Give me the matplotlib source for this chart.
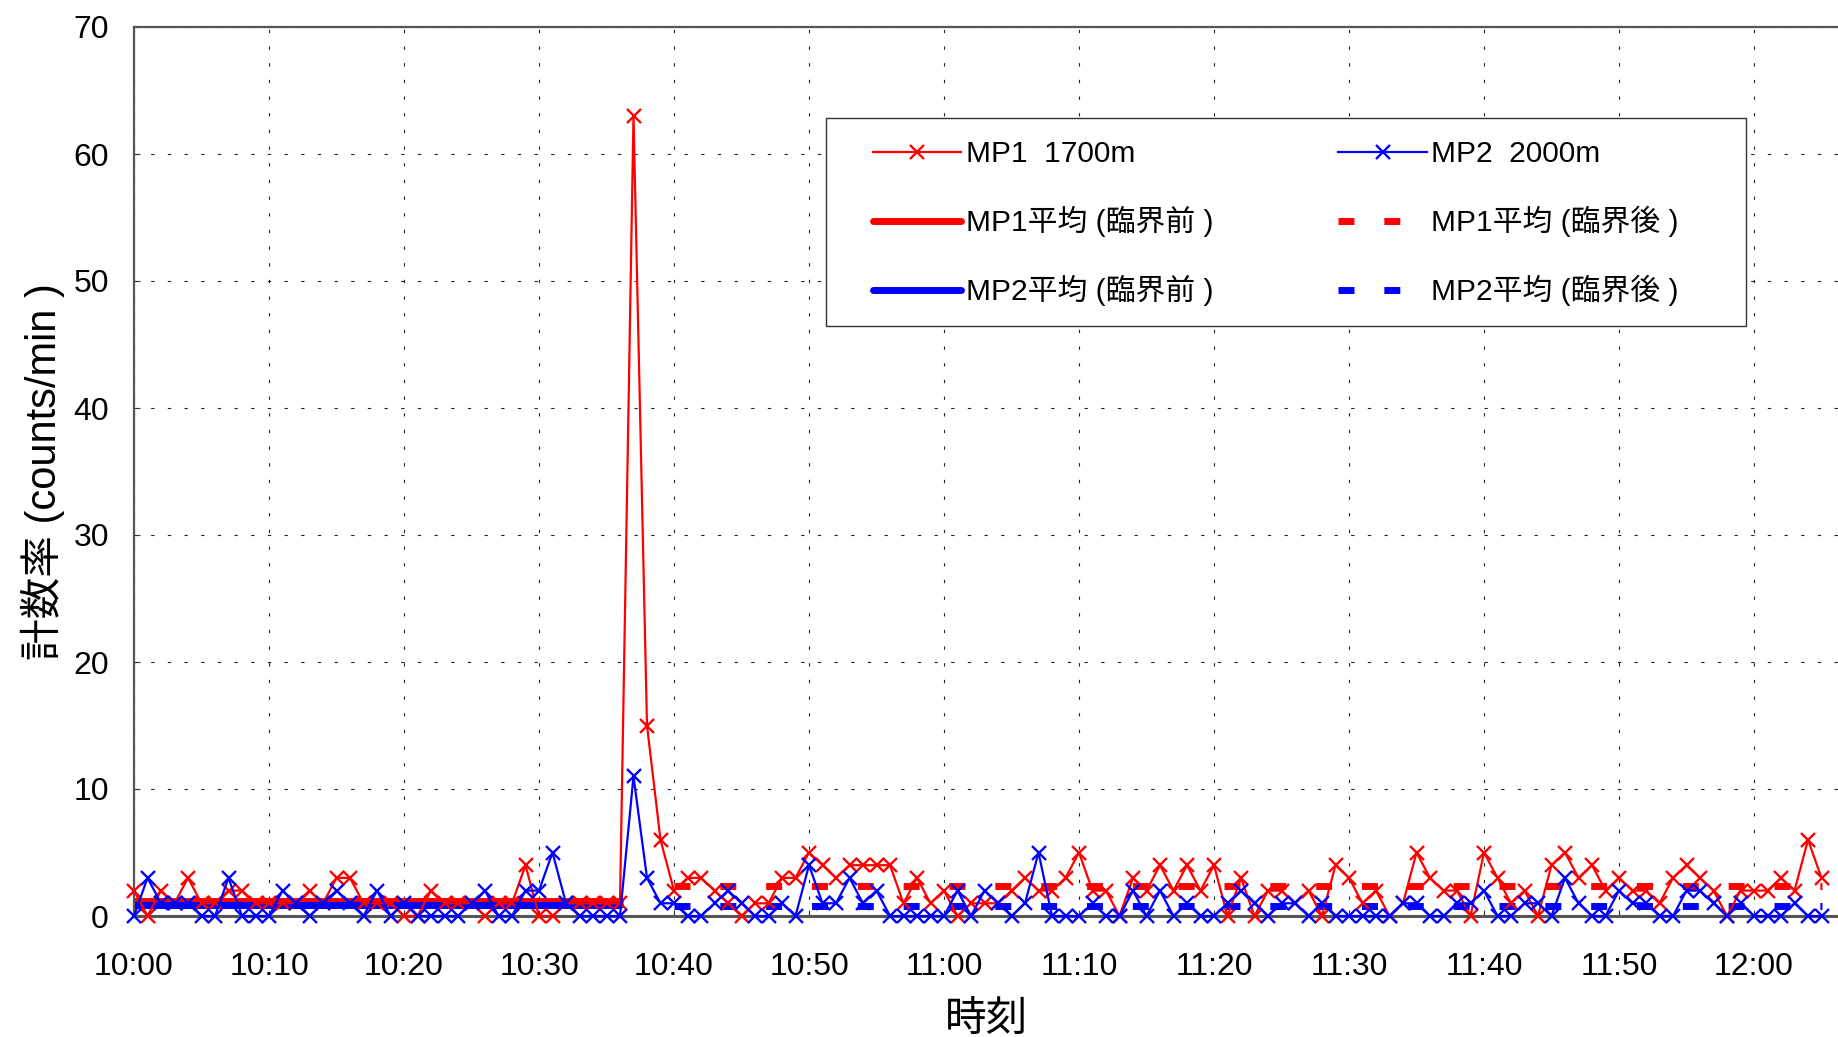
import matplotlib
matplotlib.use("Agg")
import matplotlib.pyplot as plt
from matplotlib.patches import Rectangle

plt.rcParams['font.family'] = ['Liberation Sans', 'Noto Sans CJK JP']

# minutes after 10:00, one count per minute
minutes = list(range(126))
mp1 = [2, 0, 2, 1, 3, 1, 1, 2, 2, 1, 1, 1, 1, 2, 1, 3, 3, 1, 1, 1,
       0, 0, 2, 1, 1, 1, 0, 1, 1, 4, 0, 0, 1, 1, 1, 1, 1, 63, 15, 6,
       2, 3, 3, 2, 1, 0, 1, 1, 3, 3, 5, 4, 3, 4, 4, 4, 4, 1, 3, 1,
       2, 0, 1, 1, 1, 2, 3, 2, 2, 3, 5, 2, 2, 0, 3, 2, 4, 2, 4, 2,
       4, 0, 3, 0, 2, 2, 1, 2, 0, 4, 3, 1, 2, 0, 1, 5, 3, 2, 2, 0,
       5, 3, 1, 2, 0, 4, 5, 3, 4, 2, 3, 2, 2, 1, 3, 4, 3, 2, 0, 2,
       2, 2, 3, 2, 6, 3]
mp2 = [0, 3, 1, 1, 1, 0, 0, 3, 0, 0, 0, 2, 1, 0, 1, 2, 1, 0, 2, 0,
       1, 0, 0, 0, 0, 1, 2, 0, 0, 2, 2, 5, 1, 0, 0, 0, 0, 11, 3, 1,
       1, 0, 0, 1, 2, 1, 0, 0, 1, 0, 4, 1, 1, 3, 1, 2, 0, 0, 0, 0,
       0, 2, 0, 2, 1, 0, 1, 5, 0, 0, 0, 1, 0, 0, 2, 0, 2, 0, 1, 0,
       0, 1, 2, 1, 0, 1, 1, 0, 1, 0, 0, 0, 0, 0, 1, 1, 0, 0, 1, 1,
       2, 0, 0, 1, 1, 0, 3, 1, 0, 0, 2, 1, 1, 0, 0, 2, 2, 1, 0, 1,
       0, 0, 0, 1, 0, 0]

# averages before / after criticality
before_span = [0, 36]
after_span = [40, 125]
mp1_avg_before = 1.2
mp2_avg_before = 0.9
mp1_avg_after = 2.4
mp2_avg_after = 0.8

xtick_pos = list(range(0, 121, 10))
xtick_labels = ['10:00', '10:10', '10:20', '10:30', '10:40', '10:50', '11:00',
                '11:10', '11:20', '11:30', '11:40', '11:50', '12:00']

W, H = 1838, 1037
fig = plt.figure(figsize=(W / 100, H / 100), dpi=100)
ax = fig.add_axes([134 / W, 1 - 916 / H, (W - 134) / W, (916 - 27) / H])

red = '#ff0000'
blue = '#0000ff'

l_b1, = ax.plot(before_span, [mp1_avg_before] * 2, color=red, lw=5,
                solid_capstyle='round', zorder=2)
l_b2, = ax.plot(before_span, [mp2_avg_before] * 2, color=blue, lw=5,
                solid_capstyle='round', zorder=2)
l_a1, = ax.plot(after_span, [mp1_avg_after] * 2, color=red, lw=5,
                linestyle=(0, (2.3, 4.3)), dash_capstyle='butt', zorder=2)
l_a2, = ax.plot(after_span, [mp2_avg_after] * 2, color=blue, lw=5,
                linestyle=(0, (2.3, 4.3)), dash_capstyle='butt', zorder=2)

l1, = ax.plot(minutes, mp1, color=red, lw=1.6, marker='x', markersize=10,
              markeredgewidth=1.7, clip_on=False, zorder=3)
l2, = ax.plot(minutes, mp2, color=blue, lw=1.6, marker='x', markersize=10,
              markeredgewidth=1.7, clip_on=False, zorder=3)

ax.set_xlim(0, (W - 134) / 13.5)
ax.set_ylim(0, 70)
ax.set_xticks(xtick_pos)
ax.set_xticklabels(xtick_labels)
ax.set_yticks(range(0, 71, 10))
ax.tick_params(axis='both', direction='in', length=4, labelsize=23, color='#333333')
ax.tick_params(axis='x', pad=26)
ax.tick_params(axis='y', pad=18)

ax.grid(True, color='#222222', linestyle=(0, (3, 12)), lw=0.8)
ax.set_axisbelow(True)

for s in ['left', 'top', 'bottom']:
    ax.spines[s].set_color('#555555')
    ax.spines[s].set_linewidth(1.6)
ax.spines['bottom'].set_linewidth(2.2)
ax.spines['right'].set_visible(False)

ax.set_xlabel('時刻', fontsize=30, labelpad=13)
ax.set_ylabel('計数率 (counts/min )', fontsize=30, labelpad=6)

# legend frame
frame = Rectangle((826 / W, 1 - 326 / H), (1746 - 826) / W, (326 - 118) / H,
                  transform=fig.transFigure, facecolor='white', edgecolor='#333333',
                  lw=1.0, zorder=4, clip_on=False)
ax.add_patch(frame)

handles = [l1, l_b1, l_b2, l2, l_a1, l_a2]
labels = ['MP1  1700m', 'MP1平均 (臨界前 )', 'MP2平均 (臨界前 )',
          'MP2  2000m', 'MP1平均 (臨界後 )', 'MP2平均 (臨界後 )']
leg = ax.legend(handles, labels, ncol=2, loc='upper left', frameon=False,
                bbox_to_anchor=(873 / W, 1 - 140 / H), bbox_transform=fig.transFigure,
                fontsize=21.5, borderpad=0, borderaxespad=0, handlelength=2.95,
                handletextpad=0.15, columnspacing=4.2, labelspacing=1.27,
                numpoints=1)
leg.set_zorder(5)

fig.savefig('out.png', dpi=100)
